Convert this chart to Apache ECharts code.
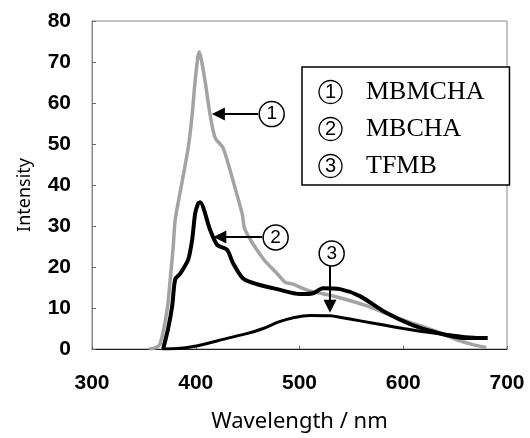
<!DOCTYPE html>
<html><head><meta charset="utf-8">
<script src="https://cdn.jsdelivr.net/npm/echarts@6/dist/echarts.min.js"></script>
<style>html,body{margin:0;padding:0;background:#fff}#c{width:530px;height:438px}</style>
</head><body><div id="c"></div>
<script>
// Series names and legend markers
const seriesNames = ['MBMCHA', 'MBCHA', 'TFMB'];
const circledMarks = ['1', '2', '3'];
// ① MBMCHA (gray)
const wl1 = [355,361,365.7,372.5,375.4,378.3,380.2,387,392.7,396.5,399.4,403.3,409,413.9,418.7,426.4,436,444.7,447.6,465,478.4,486.1,493.8,508.2,531.3,563,594.8,627.5,652.5,668,680];
const int1 = [0,0.3,1.3,9.7,17,25,31.5,41,49,57,65.3,72.5,65.3,57,51.5,49,41,33,29,22,18.4,16.3,15.8,14.3,13,10.7,7.5,4.7,2.2,1.0,0.4];
// ② MBCHA (black, thick)
const wl2 = [368.6,373.4,377.3,380.2,385,392.7,396.5,399.4,402.3,404.2,413.9,420.6,430.2,436,445.6,459.1,478.4,500.5,513,522.6,539,558.2,582.3,608.3,633.3,659.3,681.4];
const int2 = [0,5,10.5,17,18.4,21.8,26.6,33,35.5,35.8,29,25.4,24.2,20.9,17.2,15.8,14.6,13.4,13.6,14.8,14.6,12.9,9,5.9,3.9,2.7,2.7];
// ③ TFMB (black)
const wl3 = [368,385,395,410,430,450,465,480,495,510,530,540,560,580,600,620,640,660,680];
const int3 = [0,0.2,0.5,1.3,2.6,3.8,5,6.6,7.7,8.2,8.1,7.7,6.8,5.9,5,4.2,3.6,3.0,2.7];
// Axis ticks
const xMin = 300, xMax = 700, xStep = 100;
const yMin = 0, yMax = 80, yStep = 10;
// Annotation callouts (data coordinates): arrow tail, arrow head centre, circle centre
const arrowTails = [[460, 57.3], [464, 27.3], [529.4, 20.5]];
const arrowTips  = [[421.8, 57.3], [423.2, 27.3], [529.4, 10.4]];
const labelPos   = [[473.2, 57.3], [477, 27.2], [531, 23.3]];
const labelText  = ['1', '2', '3'];

const zip = (a, b) => a.map((v, i) => [v, b[i]]);
const chart = echarts.init(document.getElementById('c'), null, {renderer: 'canvas'});
const tickFont = {fontFamily: 'Liberation Sans', fontWeight: 'bold', fontSize: 21, color: '#000'};
chart.setOption({
  animation: false,
  backgroundColor: '#fff',
  grid: {left: 92, right: 23, top: 21, bottom: 85, show: true, borderColor: '#888', borderWidth: 1, backgroundColor: 'transparent'},
  legend: {
    data: seriesNames,
    orient: 'vertical', left: 302, top: 67,
    icon: 'rect', itemWidth: 0, itemHeight: 0, itemGap: 11,
    backgroundColor: '#fff', borderColor: '#000', borderWidth: 1.5,
    padding: [12, 25, 6, 12],
    selectedMode: false,
    formatter: name => '{n|' + circledMarks[seriesNames.indexOf(name)] + '}{s| }{t|' + name + '}',
    textStyle: {rich: {
      n: {fontFamily: 'Liberation Sans', fontSize: 20, width: 23, height: 23, lineHeight: 23, align: 'center',
          borderColor: '#000', borderWidth: 1.3, borderRadius: 12, color: '#000'},
      s: {width: 24, fontSize: 10},
      t: {fontFamily: 'Liberation Serif', fontSize: 26, lineHeight: 26, color: '#000'}
    }}
  },
  xAxis: {
    type: 'value', min: xMin, max: xMax, interval: xStep,
    name: 'Wavelength / nm', nameLocation: 'middle', nameGap: 62,
    nameTextStyle: {fontFamily: 'Noto Sans', fontSize: 22, color: '#000'},
    axisLine: {show: true, lineStyle: {color: '#222', width: 1}},
    axisTick: {show: true, inside: true, length: 3, lineStyle: {color: '#666'}},
    axisLabel: Object.assign({margin: 24}, tickFont),
    splitLine: {show: false}
  },
  yAxis: {
    type: 'value', min: yMin, max: yMax, interval: yStep,
    name: 'Intensity', nameLocation: 'middle', nameGap: 58,
    nameTextStyle: {fontFamily: 'Noto Sans', fontSize: 18, color: '#000', padding: [0, 20, 0, 0]},
    axisLine: {show: true, lineStyle: {color: '#888', width: 1}},
    axisTick: {show: true, inside: true, length: 4, lineStyle: {color: '#666'}},
    axisLabel: Object.assign({margin: 21}, tickFont),
    splitLine: {show: false}
  },
  series: [
    {name: seriesNames[0], type: 'line', data: zip(wl1, int1), smooth: 0.25, showSymbol: false,
     lineStyle: {color: '#a3a3a3', width: 3.5}, itemStyle: {color: '#a3a3a3'}, z: 2},
    {name: seriesNames[1], type: 'line', data: zip(wl2, int2), smooth: 0.25, showSymbol: false,
     lineStyle: {color: '#000', width: 4}, itemStyle: {color: '#000'}, z: 3},
    {name: seriesNames[2], type: 'line', data: zip(wl3, int3), smooth: 0.3, showSymbol: false,
     lineStyle: {color: '#000', width: 3}, itemStyle: {color: '#000'}, z: 3},
    {name: 'annot', type: 'line', data: [], z: 5,
     markLine: {
       silent: true, symbol: ['none', 'triangle'], symbolSize: 13,
       lineStyle: {color: '#000', width: 2, type: 'solid'}, label: {show: false},
       data: arrowTails.map((t, i) => [{coord: t}, {coord: arrowTips[i]}])
     },
     markPoint: {
       silent: true, symbol: 'circle', symbolSize: 25,
       itemStyle: {color: '#fff', borderColor: '#000', borderWidth: 1.5},
       label: {show: true, position: 'inside', formatter: p => p.name, color: '#000', fontSize: 19, fontFamily: 'Liberation Sans'},
       data: labelPos.map((p, i) => ({coord: p, name: labelText[i]}))
     }}
  ]
});
</script></body></html>
